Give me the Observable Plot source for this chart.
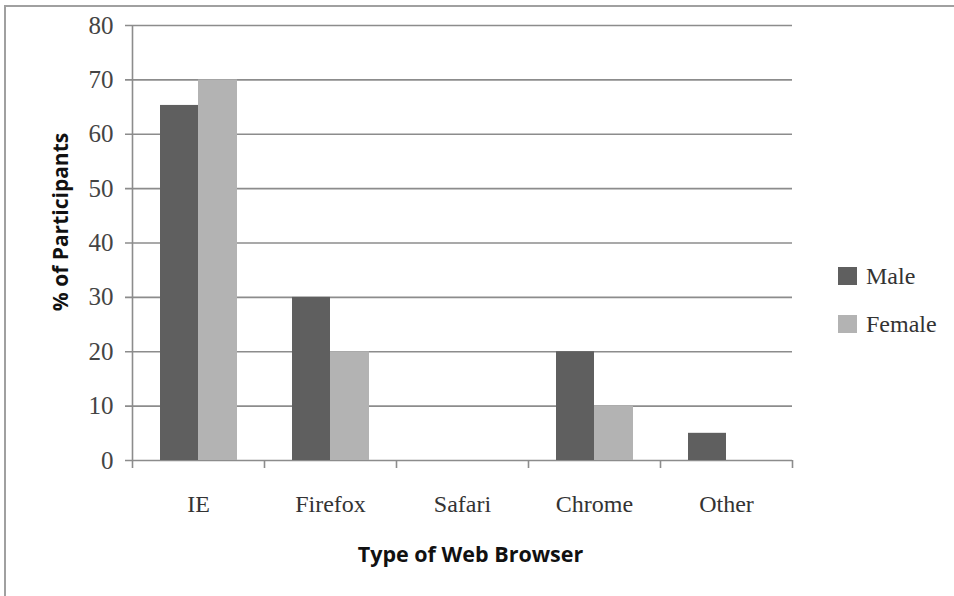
<!DOCTYPE html>
<html>
<head>
<meta charset="utf-8">
<script src="https://cdn.jsdelivr.net/npm/d3@7"></script>
<script src="https://cdn.jsdelivr.net/npm/@observablehq/plot@0.6"></script>
<style>
  html, body { margin: 0; padding: 0; background: #fff; }
  #wrap { position: relative; width: 954px; height: 596px; overflow: hidden; }
  #border { position: absolute; left: 4px; top: 5px; right: -2px; bottom: -2px; border-top: 2px solid #a0a0a0; border-left: 2px solid #a0a0a0; }
  #chart { position: absolute; left: 0; top: 0; }
  #legend { position: absolute; left: 838px; top: 264px; font-family: "Liberation Serif", serif; font-size: 24px; color: #333; }
  .item { display: flex; align-items: center; height: 24px; margin-bottom: 24px; }
  .sw { width: 19px; height: 18px; margin-right: 9px; }
</style>
</head>
<body>
<div id="wrap">
  <div id="border"></div>
  <div id="chart"></div>
  <div id="legend"></div>
</div>
<script>
const browsers = ["IE", "Firefox", "Safari", "Chrome", "Other"];
const male = [65.3, 30, 0, 20, 5];
const female = [70, 20, 0, 10, 0];
const series = ["Male", "Female"];
const colors = ["#5f5f5f", "#b3b3b3"];
const yTicks = [0, 10, 20, 30, 40, 50, 60, 70, 80];
const yTitle = "% of Participants";
const xTitle = "Type of Web Browser";

const data = browsers.flatMap((b, i) => [
  {browser: b, sex: series[0], value: male[i]},
  {browser: b, sex: series[1], value: female[i]}
]);

const grid = "#8c8c8c";
const plot = Plot.plot({
  width: 954,
  height: 596,
  marginLeft: 132,
  marginRight: 162,
  marginTop: 25,
  marginBottom: 136,
  style: {background: "transparent", overflow: "visible"},
  x: {domain: browsers, padding: 0, label: null},
  y: {domain: [0, 80], label: null},
  color: {domain: series, range: colors},
  marks: [
    Plot.ruleY(yTicks, {stroke: grid, strokeWidth: 1.6, insetLeft: -7, strokeOpacity: 1}),
    Plot.barY(data.filter(d => d.sex === series[0]), {x: "browser", y: "value", fill: "sex", insetLeft: 28, insetRight: 66}),
    Plot.barY(data.filter(d => d.sex === series[1]), {x: "browser", y: "value", fill: "sex", insetLeft: 66, insetRight: 27}),
    Plot.ruleX([browsers[0]], {y1: 0, y2: 80, stroke: grid, strokeWidth: 1.6, dx: -66}),
    Plot.ruleX(browsers, {y1: 0, y2: 0, insetBottom: -8, stroke: grid, strokeWidth: 1.6, dx: -66}),
    Plot.ruleX([browsers[browsers.length - 1]], {y1: 0, y2: 0, insetBottom: -8, stroke: grid, strokeWidth: 1.6, dx: 66}),
    Plot.axisY({ticks: yTicks, tickSize: 0, tickPadding: 19, fontSize: 25, fontFamily: "Liberation Serif", fill: "#444", label: null}),
    Plot.axisX({tickSize: 0, tickPadding: 34, fontSize: 24, fontFamily: "Liberation Serif", fill: "#333", label: null}),
    Plot.text([yTitle], {frameAnchor: "left", textAnchor: "middle", dx: -71, dy: -21, rotate: -90, fontSize: 21, fontWeight: "bold", fontFamily: "Open Sans", fill: "#111", text: d => d}),
    Plot.text([xTitle], {frameAnchor: "bottom", textAnchor: "middle", lineAnchor: "middle", dx: 8, dy: 95, fontSize: 21.5, fontWeight: "bold", fontFamily: "Open Sans", fill: "#111", text: d => d})
  ]
});
document.getElementById("chart").appendChild(plot);

const legend = document.getElementById("legend");
series.forEach((s, i) => {
  const item = document.createElement("div");
  item.className = "item";
  const sw = document.createElement("div");
  sw.className = "sw";
  sw.style.background = plot.scale("color").apply(s);
  const label = document.createElement("span");
  label.textContent = s;
  item.appendChild(sw);
  item.appendChild(label);
  legend.appendChild(item);
});
</script>
</body>
</html>
